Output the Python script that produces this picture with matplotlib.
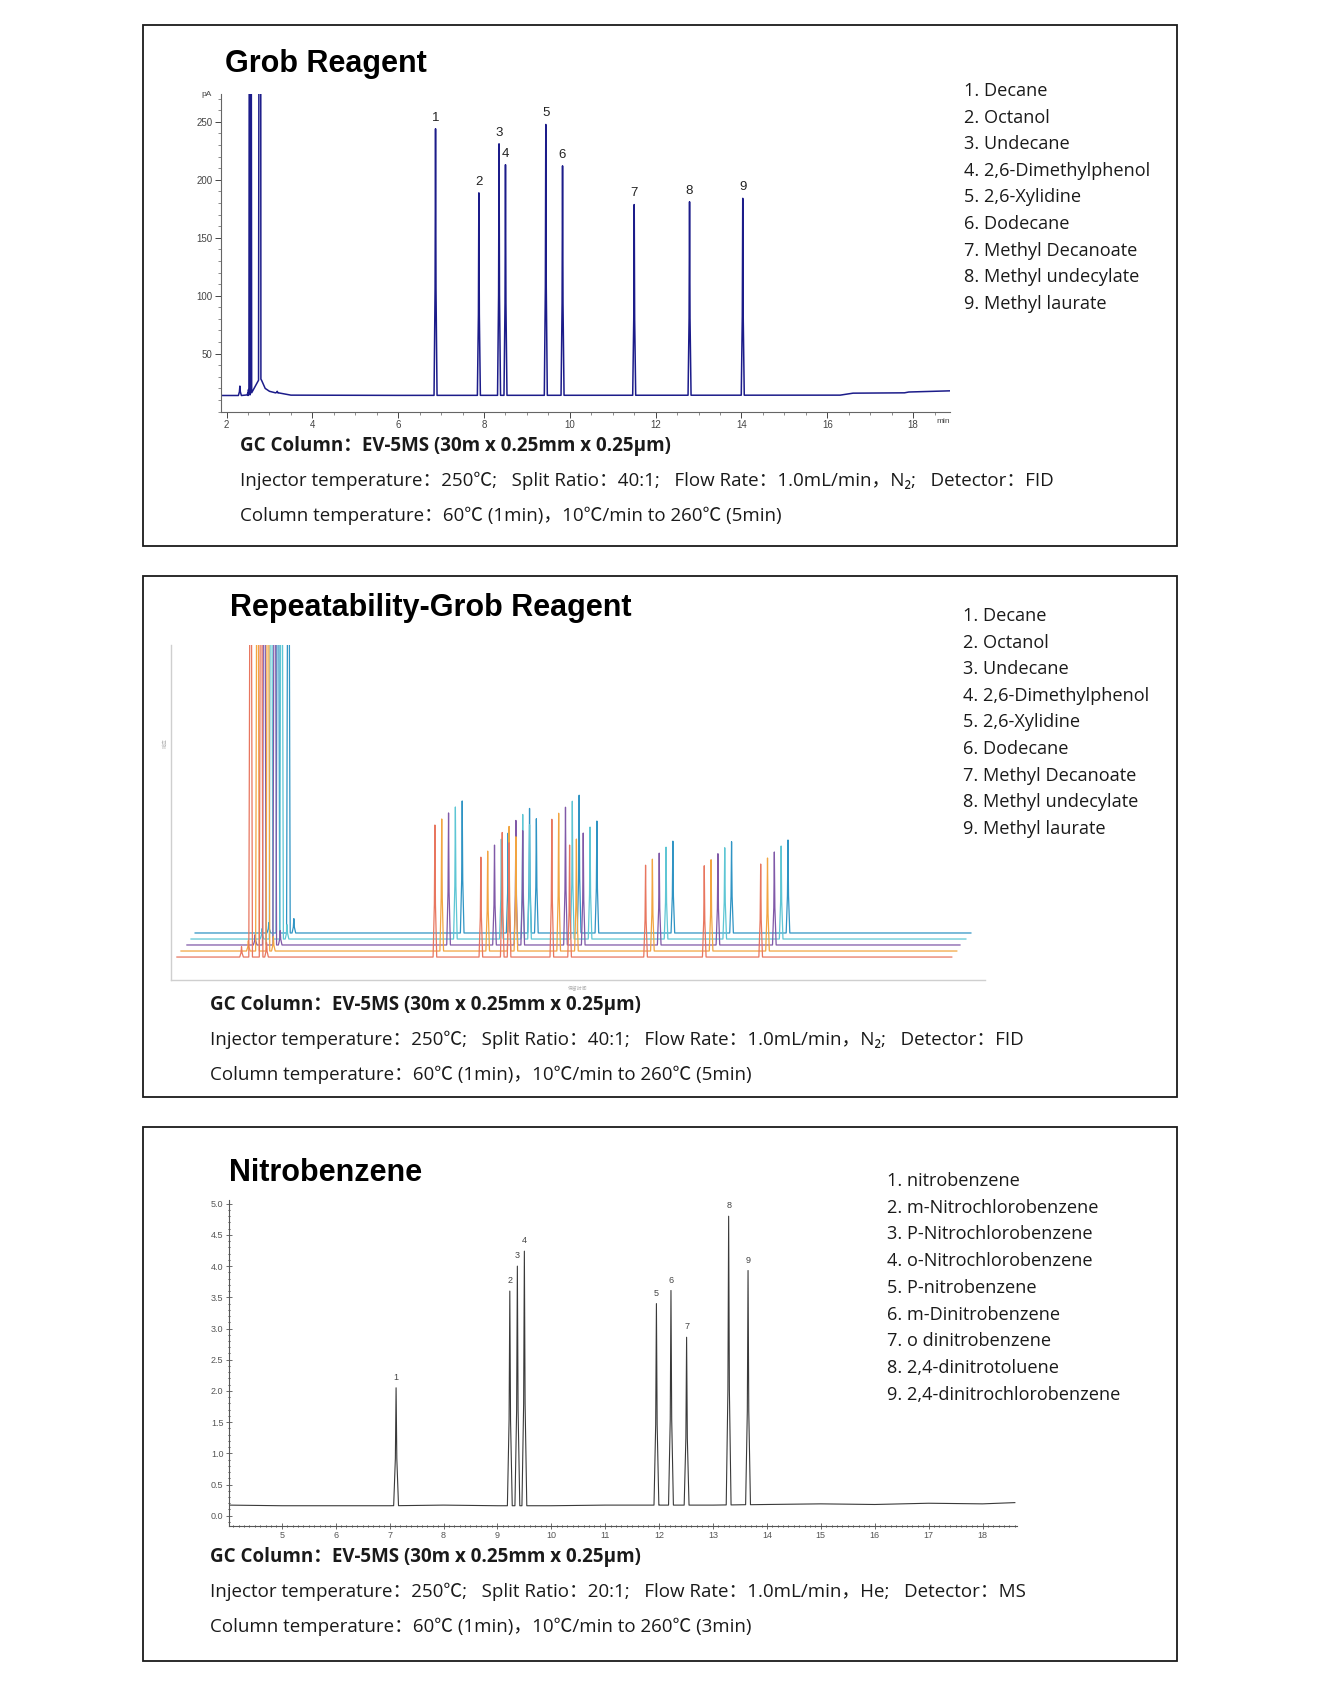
import numpy as np
import matplotlib.pyplot as plt
from matplotlib.patches import Rectangle
from matplotlib.ticker import MultipleLocator, FixedLocator, FormatStrFormatter

W, H = 1323, 1702
CJK = ['Noto Sans CJK SC', 'DejaVu Sans']
LAT = ['Open Sans', 'Noto Sans CJK SC', 'DejaVu Sans']
plt.rcParams['font.family'] = CJK

# ---------------- data ----------------
grob_names = ["1. Decane", "2. Octanol", "3. Undecane", "4. 2,6-Dimethylphenol",
              "5. 2,6-Xylidine", "6. Dodecane", "7. Methyl Decanoate",
              "8. Methyl undecylate", "9. Methyl laurate"]
grob_rt = [6.87, 7.88, 8.35, 8.50, 9.44, 9.83, 11.50, 12.79, 14.03]
grob_top = [244, 188.7, 231, 213, 247.7, 212, 178.6, 181, 184]          # pA at apex
grob_base_t = [1.9, 2.5, 2.8, 2.9, 3.0, 3.2, 3.5, 6.0, 16.3, 16.6, 17.8, 17.9, 18.85]
grob_base_v = [13.9, 13.9, 28, 20, 17.5, 16.0, 14.2, 14.0, 14.2, 15.9, 16.2, 16.9, 17.9]
grob_solv_t = [2.31, 2.51, 2.55, 2.78, 3.18]
grob_solv_top = [22, 19, 2000, 2000, 17.5]

rep_rt = [6.87, 7.88, 8.35, 8.50, 9.44, 9.83, 11.50, 12.79, 14.03]
rep_height = [230, 174, 217, 199, 240, 195, 160, 159, 162]
rep_shift = [0, 0.15, 0.30, 0.45, 0.60]
rep_level = [40, 50.5, 61, 71.4, 81.9]
rep_start = [1.20, 1.29, 1.42, 1.51, 1.60]
rep_end = [18.23, 18.34, 18.41, 18.54, 18.65]
rep_solv_t = [2.62, 2.82, 3.05, 3.17]
rep_solv_h = [18, 2000, 2000, 25]
rep_colors = ['#e8765f', '#f2a541', '#8059a8', '#5ec6d4', '#2f94c4']

nitro_names = ["1. nitrobenzene", "2. m-Nitrochlorobenzene", "3. P-Nitrochlorobenzene",
               "4. o-Nitrochlorobenzene", "5. P-nitrobenzene", "6. m-Dinitrobenzene",
               "7. o dinitrobenzene", "8. 2,4-dinitrotoluene", "9. 2,4-dinitrochlorobenzene"]
nitro_rt = [7.12, 9.23, 9.37, 9.50, 11.95, 12.22, 12.51, 13.29, 13.65]
nitro_top = [2.05, 3.60, 4.00, 4.24, 3.40, 3.61, 2.86, 4.80, 3.93]
nitro_base_t = [4.02, 5, 6, 7, 8, 9, 10, 11, 12, 13, 14, 15, 16, 17, 18, 18.6]
nitro_base_v = [0.17, 0.16, 0.16, 0.16, 0.17, 0.16, 0.16, 0.17, 0.17, 0.17, 0.18,
                0.19, 0.18, 0.20, 0.19, 0.21]

cap_fid = ["GC Column：EV-5MS (30m x 0.25mm x 0.25μm)",
           "Injector temperature：250℃;   Split Ratio：40:1;   Flow Rate：1.0mL/min，N₂;   Detector：FID",
           "Column temperature：60℃ (1min)，10℃/min to 260℃ (5min)"]
cap_ms = ["GC Column：EV-5MS (30m x 0.25mm x 0.25μm)",
          "Injector temperature：250℃;   Split Ratio：20:1;   Flow Rate：1.0mL/min，He;   Detector：MS",
          "Column temperature：60℃ (1min)，10℃/min to 260℃ (3min)"]


def trace(base_t, base_v, peak_t, peak_top, hw):
    xs, ys = list(base_t), list(base_v)
    for t, top in zip(peak_t, peak_top):
        b = np.interp(t, base_t, base_v)
        xs += [t - hw, t - hw * 0.3, t, t + hw * 0.3, t + hw]
        ys += [b, b + (top - b) * 0.4, top, b + (top - b) * 0.4, b]
    order = np.argsort(xs, kind='stable')
    return np.array(xs)[order], np.array(ys)[order]


def px_axes(l, t, r, b):
    return fig.add_axes([l / W, 1 - b / H, (r - l) / W, (b - t) / H])


def ftext(x, y, s, **kw):
    fig.text(x / W, 1 - y / H, s, **kw)


fig = plt.figure(figsize=(W / 100, H / 100), dpi=100)

for top, bot in [(25, 546), (576, 1097), (1127, 1661)]:
    fig.add_artist(Rectangle((143 / W, 1 - bot / H), (1177 - 143) / W, (bot - top) / H,
                             transform=fig.transFigure, fill=False, ec='#1a1a1a', lw=1.3))

title_kw = dict(fontsize=22, fontweight='bold', family='Liberation Sans', va='center', color='black')
ftext(225, 64, "Grob Reagent", **title_kw)
ftext(230, 608, "Repeatability-Grob Reagent", **title_kw)
ftext(229, 1173, "Nitrobenzene", **title_kw)

leg_kw = dict(fontsize=13.1, va='center', color='#1a1a1a', family=LAT)
for i, s in enumerate(grob_names):
    ftext(964, 91 + i * 26.6, s, **leg_kw)
    ftext(963, 616 + i * 26.6, s, **leg_kw)
for i, s in enumerate(nitro_names):
    ftext(887, 1181 + i * 26.7, s, **leg_kw)

for y0, x0, lines in [(446, 240, cap_fid), (1005, 210, cap_fid), (1557, 210, cap_ms)]:
    for j, s in enumerate(lines):
        ftext(x0, y0 + j * 34.7, s, fontsize=13.5, va='center', color='#1a1a1a',
              fontweight='bold' if j == 0 else 'normal', family=LAT)

# ---------- panel 1 ----------
ax1 = px_axes(221, 94, 950, 411.6)
x, y = trace(grob_base_t, grob_base_v, grob_rt + grob_solv_t, grob_top + grob_solv_top, 0.035)
ax1.plot(x, y, color='#1c1c8a', lw=1.1)
ax1.set_xlim(1.87, 18.86)
ax1.set_ylim(0, 274)
for sp in ['top', 'right']:
    ax1.spines[sp].set_visible(False)
for sp in ['left', 'bottom']:
    ax1.spines[sp].set_color('#666666')
    ax1.spines[sp].set_linewidth(0.8)
ax1.xaxis.set_major_locator(MultipleLocator(2))
ax1.xaxis.set_minor_locator(MultipleLocator(0.5))
ax1.yaxis.set_major_locator(FixedLocator([50, 100, 150, 200, 250]))
ax1.yaxis.set_minor_locator(MultipleLocator(10))
ax1.tick_params(labelsize=7, colors='#444444', length=4, width=0.7, pad=2)
ax1.tick_params(which='minor', length=2, width=0.6, colors='#777777')
for lab in ax1.get_xticklabels() + ax1.get_yticklabels():
    lab.set_family('Liberation Sans')
ax1.text(-0.012, 1.0, "pA", transform=ax1.transAxes, ha='right', va='center',
         fontsize=6, color='#444444', family='Liberation Sans')
ax1.text(1.0, -0.02, "min", transform=ax1.transAxes, ha='right', va='top',
         fontsize=6, color='#444444', family='Liberation Sans')
for i, (t, v) in enumerate(zip(grob_rt, grob_top)):
    ax1.annotate(str(i + 1), (t, v), xytext=(0, 8), textcoords='offset points',
                 ha='center', va='center', fontsize=9.5, family='Liberation Sans', color='#222222')

# ---------- panel 2 ----------
ax2 = px_axes(171, 645, 985, 980)
ax2.set_xlim(1.07, 18.96)
ax2.set_ylim(0, 583.6)
for k in range(len(rep_colors)):
    lvl = rep_level[k]
    sh = rep_shift[k]
    bt = [rep_start[k], rep_end[k]]
    bv = [lvl, lvl]
    pt = [t + sh for t in rep_rt + rep_solv_t]
    pv = [lvl + h for h in rep_height + rep_solv_h]
    x, y = trace(bt, bv, pt, pv, 0.04)
    ax2.plot(x, y, color=rep_colors[k], lw=0.9, zorder=5 - k)
for sp in ['top', 'right']:
    ax2.spines[sp].set_visible(False)
for sp in ['left', 'bottom']:
    ax2.spines[sp].set_color('#cfcfcf')
    ax2.spines[sp].set_linewidth(1.0)
ax2.set_xticks([])
ax2.set_yticks([])
ftext(578, 989, "保留时间", fontsize=3.5, color='#b0b0b0', ha='center', va='center', family=CJK)
ftext(165, 743, "响应", fontsize=3.5, color='#b0b0b0', ha='center', va='center',
      rotation=90, family=CJK)

# ---------- panel 3 ----------
ax3 = px_axes(229, 1200, 1017, 1525.7)
x, y = trace(nitro_base_t, nitro_base_v, nitro_rt, nitro_top, 0.045)
ax3.plot(x, y, color='#3a3a3a', lw=0.8)
ax3.set_xlim(4.02, 18.64)
ax3.set_ylim(-0.16, 5.06)
for sp in ['top', 'right']:
    ax3.spines[sp].set_visible(False)
for sp in ['left', 'bottom']:
    ax3.spines[sp].set_color('#555555')
    ax3.spines[sp].set_linewidth(0.8)
ax3.xaxis.set_major_locator(MultipleLocator(1))
ax3.xaxis.set_minor_locator(MultipleLocator(0.1))
ax3.yaxis.set_major_locator(MultipleLocator(0.5))
ax3.yaxis.set_minor_locator(MultipleLocator(0.1))
ax3.yaxis.set_major_formatter(FormatStrFormatter('%.1f'))
ax3.tick_params(labelsize=6.5, colors='#555555', length=4, width=0.6, pad=2, direction='inout')
ax3.tick_params(which='minor', length=1.5, width=0.5, direction='inout')
for lab in ax3.get_xticklabels() + ax3.get_yticklabels():
    lab.set_family('Liberation Sans')
for i, (t, v) in enumerate(zip(nitro_rt, nitro_top)):
    ax3.annotate(str(i + 1), (t, v), xytext=(0, 7.5), textcoords='offset points',
                 ha='center', va='center', fontsize=6.5, family='Liberation Sans', color='#444444')

fig.savefig("out.png", dpi=100)
